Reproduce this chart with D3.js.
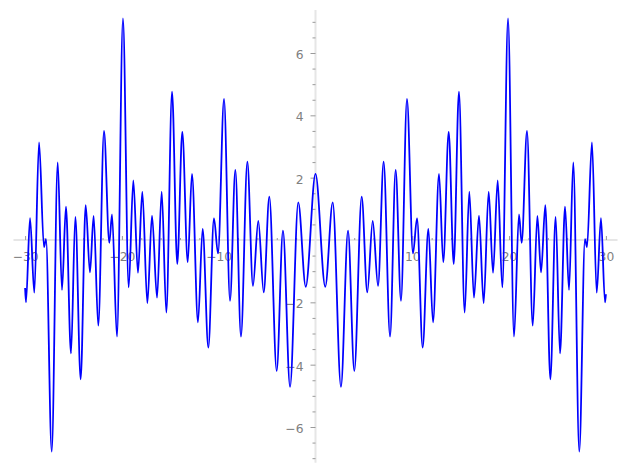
<!DOCTYPE html>
<html>
<head>
<meta charset="utf-8">
<script src="https://cdn.jsdelivr.net/npm/d3@7"></script>
<style>
  body { margin: 0; background: #fff; }
  .axis text { font-family: "DejaVu Sans", sans-serif; font-size: 12.3px; fill: #808080; }
</style>
</head>
<body>
<div id="chart"></div>
<script>
// turning points of the curve (x, y)
var xPoints = [
  -30.00, -29.91, -29.49, -29.05, -28.56, -28.05, -27.84, -27.25, -26.63, -26.19,
  -25.78, -25.26, -24.81, -24.26, -23.74, -23.30, -22.92, -22.44, -21.85, -21.30,
  -21.02, -20.51, -19.89, -19.30, -18.82, -18.34, -17.89, -17.37, -16.89, -16.37,
  -15.89, -15.41, -14.82, -14.28, -13.76, -13.20, -12.76, -12.14, -11.66, -11.07,
  -10.49, -10.07, -9.45, -8.83, -8.28, -7.70, -7.04, -6.46, -5.91, -5.35,
  -4.77, -4.01, -3.36, -2.63, -1.78, -1.01,
  0,
  1.01, 1.78, 2.63, 3.36, 4.01, 4.77, 5.35, 5.91, 6.46, 7.04,
  7.70, 8.28, 8.83, 9.45, 10.07, 10.49, 11.07, 11.66, 12.14, 12.76,
  13.20, 13.76, 14.28, 14.82, 15.41, 15.89, 16.37, 16.89, 17.37, 17.89,
  18.34, 18.82, 19.30, 19.89, 20.51, 21.02, 21.30, 21.85, 22.44, 22.92,
  23.30, 23.74, 24.26, 24.81, 25.26, 25.78, 26.19, 26.63, 27.25, 27.84,
  28.05, 28.56, 29.05, 29.49, 29.91, 30.00
];
var yPoints = [
  -1.54, -2.00, 0.70, -1.69, 3.13, -0.23, 0.03, -6.79, 2.49, -1.60,
  1.07, -3.64, 0.74, -4.47, 1.12, -1.04, 0.77, -2.75, 3.50, -0.09,
  0.82, -3.10, 7.11, -1.52, 1.91, -1.05, 1.55, -2.03, 0.78, -1.85,
  1.55, -2.33, 4.76, -0.77, 3.47, -0.71, 2.12, -2.64, 0.36, -3.45,
  0.69, -0.43, 4.53, -1.95, 2.25, -3.10, 2.51, -1.47, 0.61, -1.68,
  1.39, -4.20, 0.30, -4.71, 1.21, -1.50,
  2.12,
  -1.50, 1.21, -4.71, 0.30, -4.20, 1.39, -1.68, 0.61, -1.47, 2.51,
  -3.10, 2.25, -1.95, 4.53, -0.43, 0.69, -3.45, 0.36, -2.64, 2.12,
  -0.71, 3.47, -0.77, 4.76, -2.33, 1.55, -1.85, 0.78, -2.03, 1.55,
  -1.05, 1.91, -1.52, 7.11, -3.10, 0.82, -0.09, 3.50, -2.75, 0.77,
  -1.04, 1.12, -4.47, 0.74, -3.64, 1.07, -1.60, 2.49, -6.79, 0.03,
  -0.23, 3.13, -1.69, 0.70, -2.00, -1.74
];

var xMajorTicks = [-30, -20, -10, 10, 20, 30];
var xMinorTicks = d3.range(-30, 31, 2).filter(function(d) { return d % 10 !== 0; });
var yMajorTicks = [-6, -4, -2, 2, 4, 6];
var yMinorTicks = d3.range(-7, 7.01, 0.5).filter(function(d) { return d % 2 !== 0; });

var width = 627, height = 470;

var svg = d3.select("#chart")
    .append("svg")
    .attr("width", width)
    .attr("height", height);

var x = d3.scaleLinear().domain([-30, 30]).range([25.1, 605.9]);
var y = d3.scaleLinear().domain([-6, 6]).range([427, 53]);

// axis lines through the origin
svg.append("line")
    .attr("x1", x(-31.2)).attr("x2", x(31.2))
    .attr("y1", y(0)).attr("y2", y(0))
    .attr("stroke", "#e6e6e6").attr("stroke-width", 2);
svg.append("line")
    .attr("x1", x(0)).attr("x2", x(0))
    .attr("y1", y(7.38)).attr("y2", y(-7.15))
    .attr("stroke", "#e6e6e6").attr("stroke-width", 2);

// X axis
var gx = svg.append("g").attr("class", "axis")
    .attr("transform", "translate(0," + y(0) + ")");
gx.append("g")
    .call(d3.axisBottom(x).tickValues(xMinorTicks).tickSize(-2).tickFormat(""));
gx.append("g")
    .call(d3.axisBottom(x).tickValues(xMajorTicks).tickSize(-4).tickPadding(12)
        .tickFormat(d3.format("d")));

// Y axis
var gy = svg.append("g").attr("class", "axis")
    .attr("transform", "translate(" + x(0) + ",0)");
gy.append("g")
    .call(d3.axisLeft(y).tickValues(yMinorTicks).tickSize(3).tickFormat(""));
gy.append("g")
    .call(d3.axisLeft(y).tickValues(yMajorTicks).tickSize(5).tickPadding(7)
        .tickFormat(d3.format("d")));
gy.selectAll("text").attr("dy", "0.45em");

svg.selectAll(".axis .domain").remove();
svg.selectAll(".axis .tick line").attr("stroke", "#9a9a9a").attr("stroke-width", 1);

// the curve
var pts = xPoints.map(function(d, i) { return [d, yPoints[i]]; });
svg.append("path")
    .datum(pts)
    .attr("fill", "none")
    .attr("stroke", "#0000ff")
    .attr("stroke-width", 1.8)
    .attr("d", d3.line()
        .x(function(d) { return x(d[0]); })
        .y(function(d) { return y(d[1]); })
        .curve(d3.curveMonotoneX));
</script>
</body>
</html>
